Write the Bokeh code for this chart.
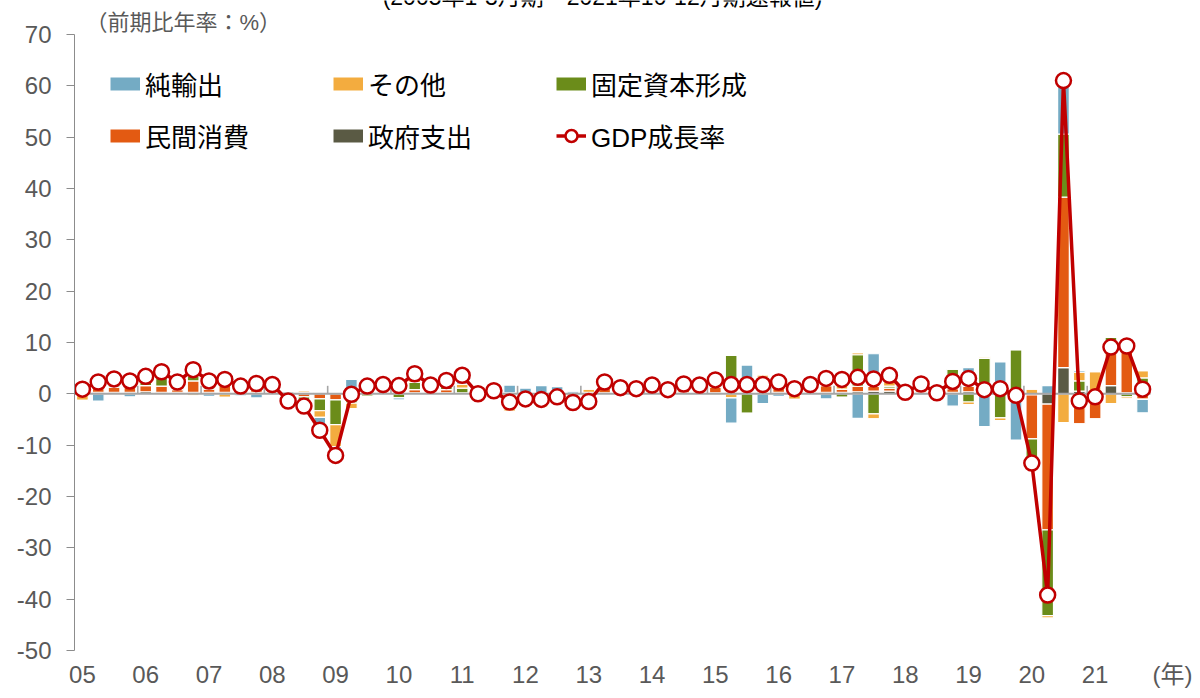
from bokeh.plotting import figure
from bokeh.models import (ColumnDataSource, Label, Legend, LegendItem,
                          FixedTicker, Range1d)
from bokeh.embed import file_html
from bokeh.resources import INLINE

# ---------------- data ----------------
year_labels = ["05", "06", "07", "08", "09", "10", "11", "12", "13",
               "14", "15", "16", "17", "18", "19", "20", "21"]
quarters = [f"{y}Q{q}" for y in year_labels for q in range(1, 5)]
y_ticks = [-50, -40, -30, -20, -10, 0, 10, 20, 30, 40, 50, 60, 70]
y_tick_labels = ["-50", "-40", "-30", "-20", "-10", "0", "10", "20", "30",
                 "40", "50", "60", "70"]

gdp = [0.9, 2.3, 2.9, 2.5,
       3.4, 4.3, 2.3, 4.7,
       2.5, 2.8, 1.5, 2.0,
       1.8, -1.4, -2.4, -7.1,
       -12.0, -0.1, 1.5, 1.8,
       1.6, 3.9, 1.7, 2.6,
       3.6, 0.0, 0.6, -1.6,
       -1.0, -1.1, -0.6, -1.7,
       -1.5, 2.3, 1.2, 1.0,
       1.7, 0.8, 1.9, 1.7,
       2.7, 1.8, 1.8, 1.8,
       2.3, 1.0, 1.8, 3.0,
       2.8, 3.2, 2.9, 3.6,
       0.3, 1.9, 0.2, 2.4,
       3.0, 0.8, 1.0, -0.3,
       -13.5, -39.2, 61.0, -1.4,
       -0.6, 9.1, 9.3, 0.9]

gov = [0.3, 0.3, 0.3, 0.3, 0.4, 0.3, 0.3, 0.3, 0.3, 0.3, 0.3, 0.3,
       0.3, 0.4, 0.3, 0.3, 0.3, 0.4, 0.4, 0.3, 0.4, 0.2, 0.2, 0.2,
       0.1, 0.2, 0.2, 0.2, 0.2, 0.2, 0.1, 0.1, 0.1, 0.2, 0.2, 0.2,
       0.2, 0.2, 0.2, 0.2, 0.2, 0.3, 0.2, 0.3, 0.3, 0.3, 0.3, 0.3,
       0.3, 0.4, 0.5, 0.5, 0.3, 0.3, 0.3, 0.3, 0.4, 0.2, 0.2, 0.3,
       -0.2, -2.0, 5.1, 0.5, 0.2, 1.6, 0.2, 0.8]

cons = [1.5, 2.4, 1.0, 1.0, 1.2, 1.2, 0.5, 2.2, 0.6, 1.5, 1.0, 1.2,
        1.0, -0.6, -0.6, -1.0, -1.2, 0.4, 1.2, 1.0, 1.4, 0.6, 1.0, 0.6,
        0.1, 0.3, 0.4, -1.2, -0.8, -1.0, -0.9, -1.0, 0.2, 1.0, 0.8, 0.6,
        0.9, 0.5, 1.0, 1.0, 1.1, 0.8, 1.1, 1.4, 1.3, 1.2, 1.0, 1.3,
        0.6, 1.1, 1.0, 0.6, 0.4, 1.1, 0.6, 0.7, 1.1, 0.2, 0.0, 0.5,
        -8.6, -24.5, 33.2, -5.9, -4.95, 6.4, 8.4, -1.1]

inv = [0.5, 1.0, 1.2, 1.0, 1.0, 2.0, 0.8, 1.0, 1.1, 0.8, 0.3, 0.5,
       0.3, -0.8, -1.5, -2.3, -4.8, -1.8, -0.5, 0.2, -0.8, 1.4, 0.3, 0.8,
       0.9, 0.2, 0.3, -0.6, -0.6, -0.8, -0.6, -0.6, -1.4, 0.6, 0.3, 0.3,
       0.4, 0.3, 0.5, 0.4, 0.8, 6.4, -3.8, 1.5, 0.7, 0.6, 0.3, 1.0,
       -0.7, 6.1, -3.9, 0.4, 0.3, 0.5, 0.4, 3.8, -1.6, 6.5, -4.7, 7.8,
       -4.6, -16.7, 12.3, 2.0, 0.0, 3.0, -0.6, 2.3]

oth = [-1.3, 0.0, 0.4, 0.8, 0.6, 0.5, 0.4, -0.4, 1.0, -0.7, 0.3, 0.8,
       0.2, -0.4, 0.3, -1.3, -4.3, -1.1, 0.4, 0.4, 1.0, 1.0, 0.2, 0.6,
       0.8, -0.4, -0.3, -1.6, -0.7, -0.9, -0.5, -0.5, 0.6, 0.5, 0.2, 0.1,
       0.2, -0.2, -0.2, -0.2, -0.3, -0.8, 0.0, 0.5, 0.5, -1.1, -0.2, 1.4,
       1.3, 0.4, -1.0, 1.5, -0.3, 0.3, 0.0, 0.0, -0.5, 0.3, -0.5, 0.0,
       0.9, -0.5, -5.6, 1.7, 4.1, -1.9, -0.4, 1.4]

nx = [-0.1, -1.4, 0.0, -0.6, 0.2, 0.3, 0.3, 1.6, -0.5, 0.9, -0.4, -0.8,
      0.0, 0.0, -0.9, -2.8, -2.0, 2.0, 0.0, -0.1, -0.4, 0.7, 0.0, 0.4,
      1.7, -0.3, 0.0, 1.5, 0.9, 1.4, 1.3, 0.3, -1.0, 0.0, -0.3, -0.2,
      0.0, 0.0, 0.4, 0.3, 0.9, -4.9, 4.3, -1.9, -0.5, 0.0, 0.4, -1.0,
      1.3, -4.8, 6.3, 0.6, -0.4, -0.3, -1.1, -2.4, 3.6, -6.4, 6.0, -9.0,
      -0.3, 1.6, 9.5, 0.3, 0.0, 0.0, 1.65, -2.6]

legend_names = {"nx": "純輸出", "oth": "その他", "inv": "固定資本形成",
                "cons": "民間消費", "gov": "政府支出"}
gdp_name = "GDP成長率"
title_text = "(2005年1-3月期～2021年10-12月期速報値)"
unit_text = "（前期比年率：%）"
year_unit_text = "(年)"

# ---------------- layout (pixels) ----------------
W, H = 1192, 690
frame_left = 74          # y axis position
plot_right_px = 1150     # right edge of the last category
top_px, bottom_px = 34, 652   # pixel rows of y=70 and y=-50
y_min, y_max = -50, 70
n = len(quarters)
px_per_cat = (plot_right_px - frame_left) / n
px_per_unit = (bottom_px - top_px) / (y_max - y_min)
x_end = -0.5 + (W - frame_left) / px_per_cat
y_top = y_max + top_px / px_per_unit


def xdata(px):
    return -0.5 + (px - frame_left) / px_per_cat


def ydata(py):
    return y_max - (py - top_px) / px_per_unit


# ---------------- styling ----------------
colors = {"nx": "#74ABC4", "oth": "#F3AC3F", "inv": "#6B8C1A",
          "cons": "#E35A12", "gov": "#5A5A44"}
gdp_color = "#C00000"
axis_gray = "#8C8C8C"
zero_gray = "#A6A6A6"
label_gray = "#595959"
latin_font = "'Liberation Sans', 'Noto Sans CJK JP'"

series = {"gov": gov, "cons": cons, "inv": inv, "oth": oth, "nx": nx}
stack_order = ["gov", "cons", "inv", "oth", "nx"]

data = {"x": list(range(n)), "gdp": gdp, "blank": [float("nan")] * n}
for s in stack_order:
    data[s + "_p"] = [max(v, 0) for v in series[s]]
    data[s + "_n"] = [min(v, 0) for v in series[s]]
source = ColumnDataSource(data)

p = figure(width=W, height=H,
           x_range=Range1d(-0.5, x_end), y_range=Range1d(y_min, y_top),
           output_backend="svg", toolbar_location=None,
           min_border_left=frame_left, min_border_right=0,
           min_border_top=0, min_border_bottom=H - bottom_px)
p.styles = {"margin-bottom": "-8px"}
p.xgrid.visible = False
p.ygrid.visible = False
p.outline_line_color = None
p.background_fill_color = "white"
p.border_fill_color = "white"

# y axis
p.yaxis.bounds = (y_min, y_max)
p.yaxis.ticker = FixedTicker(ticks=y_ticks)
p.yaxis.major_label_overrides = {t: lab for t, lab in zip(y_ticks, y_tick_labels)}
p.yaxis.axis_line_color = axis_gray
p.yaxis.major_tick_line_color = axis_gray
p.yaxis.major_tick_out = 8
p.yaxis.major_tick_in = 0
p.yaxis.minor_tick_line_color = None
p.yaxis.major_label_text_font = latin_font
p.yaxis.major_label_text_font_size = "24px"
p.yaxis.major_label_text_color = label_gray
p.yaxis.major_label_standoff = 15

# x axis: year labels at the first quarter of each year, plus the unit "(年)"
q1 = [4 * k for k in range(len(year_labels))]
unit_tick = round(xdata(1172), 1)
x_overrides = {t: lab for t, lab in zip(q1, year_labels)}
x_overrides[unit_tick] = year_unit_text
p.xaxis.ticker = FixedTicker(ticks=q1 + [unit_tick])
p.xaxis.major_label_overrides = x_overrides
p.xaxis.axis_line_color = None
p.xaxis.major_tick_line_color = None
p.xaxis.major_tick_out = 0
p.xaxis.major_tick_in = 0
p.xaxis.minor_tick_line_color = None
p.xaxis.major_label_text_font = latin_font
p.xaxis.major_label_text_font_size = "24px"
p.xaxis.major_label_text_color = label_gray
p.xaxis.major_label_standoff = 10

# stacked bars (positive and negative parts stacked separately)
bar_w = 0.74
p.vbar_stack([s + "_p" for s in stack_order], x="x", width=bar_w, source=source,
             fill_color=[colors[s] for s in stack_order], line_color="white", line_width=1.2)
p.vbar_stack([s + "_n" for s in stack_order], x="x", width=bar_w, source=source,
             fill_color=[colors[s] for s in stack_order], line_color="white", line_width=1.2)

# zero line with year-boundary ticks
p.segment(x0=[-0.5], x1=[n - 0.5], y0=[0], y1=[0], line_color=zero_gray, line_width=2)
bounds = [4 * k - 0.5 for k in range(1, len(year_labels))]
p.segment(x0=bounds, x1=bounds, y0=[0] * len(bounds), y1=[8 / px_per_unit] * len(bounds),
          line_color=zero_gray, line_width=1.6)

# GDP line
gl = p.line("x", "gdp", source=source, line_color=gdp_color, line_width=3.5)
gs = p.scatter("x", "gdp", source=source, size=15, fill_color="white",
               line_color=gdp_color, line_width=2.5)

# legend proxies (nan data: draw nothing in the plot)
proxy = {}
for s in stack_order:
    proxy[s] = p.line("x", "blank", source=source, line_color=colors[s],
                      line_width=13, line_cap="butt")

items = [LegendItem(label=legend_names["nx"], renderers=[proxy["nx"]]),
         LegendItem(label=legend_names["oth"], renderers=[proxy["oth"]]),
         LegendItem(label=legend_names["inv"], renderers=[proxy["inv"]]),
         LegendItem(label=legend_names["cons"], renderers=[proxy["cons"]]),
         LegendItem(label=legend_names["gov"], renderers=[proxy["gov"]]),
         LegendItem(label=gdp_name, renderers=[gl, gs])]
row_h, row_gap = 38, 15
legend_h = 2 * row_h + row_gap
frame_h = bottom_px
legend = Legend(items=items, location=(110 - frame_left, frame_h - (84 - row_h / 2) - legend_h),
                orientation="horizontal", ncols=3,
                label_text_font=latin_font, label_text_font_size="26px",
                label_text_color="black", glyph_width=30, glyph_height=35,
                label_standoff=5, label_width=173, label_height=32,
                spacing=row_gap, padding=0, margin=0,
                border_line_color=None, background_fill_alpha=0)
p.add_layout(legend)

# texts
p.add_layout(Label(x=xdata(602), y=ydata(-4), text=title_text, text_align="center",
                   text_baseline="middle", text_font=latin_font,
                   text_font_size="23px", text_color="black"))
p.add_layout(Label(x=xdata(85), y=ydata(22), text=unit_text, text_align="left",
                   text_baseline="middle", text_font=latin_font,
                   text_font_size="22px", text_color=label_gray))

open("out.html", "w").write(file_html(p, INLINE))
